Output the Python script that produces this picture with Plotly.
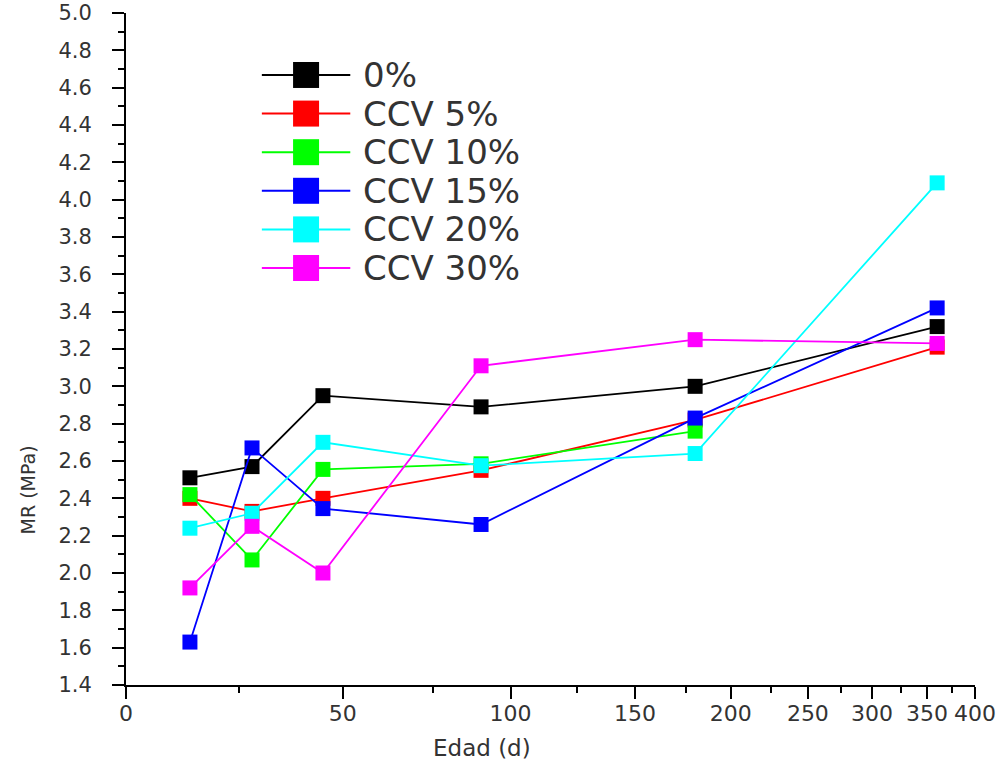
import numpy as np
import plotly.graph_objects as go

# Curing age (days) and flexural strength MR (MPa) for each mix
AGES = [14, 28, 45, 90, 180, 360]

SERIES_NAMES = ["0%", "CCV 5%", "CCV 10%", "CCV 15%", "CCV 20%", "CCV 30%"]
MR_0 = [2.51, 2.57, 2.95, 2.89, 3.00, 3.32]
MR_5 = [2.40, 2.33, 2.40, 2.55, 2.82, 3.21]
MR_10 = [2.42, 2.07, 2.555, 2.585, 2.76]
MR_15 = [1.63, 2.67, 2.345, 2.26, 2.83, 3.42]
MR_20 = [2.24, 2.32, 2.70, 2.575, 2.64, 4.09]
MR_30 = [1.92, 2.25, 2.00, 3.11, 3.25, 3.23]
SERIES_VALUES = [MR_0, MR_5, MR_10, MR_15, MR_20, MR_30]
SERIES_COLORS = ["#000000", "#ff0000", "#00ff00", "#0000ff", "#00ffff", "#ff00ff"]

X_MAJOR = [0, 50, 100, 150, 200, 250, 300, 350, 400]
X_MINOR = [25, 75, 125, 175, 225, 275, 325, 375]
Y_RANGE = [1.4, 5.0]

FONT = "DejaVu Sans"
TEXT_COLOR = "#333333"


def age_scale(days):
    """Compressed age axis: linear near zero, logarithmic for long ages."""
    return np.arcsinh(np.asarray(days, dtype=float) / 80.0)


fig = go.Figure()

for name, vals, color in zip(SERIES_NAMES, SERIES_VALUES, SERIES_COLORS):
    fig.add_trace(go.Scatter(
        x=age_scale(AGES[:len(vals)]), y=vals, name=name,
        mode="lines+markers",
        line=dict(color=color, width=1.8),
        marker=dict(symbol="square", size=15, color=color, line=dict(width=0)),
        showlegend=False, cliponaxis=False,
        xaxis="x", yaxis="y",
    ))

# Hand-built legend in its own small subplot (long line + big square, then label)
for row, (name, color) in enumerate(zip(SERIES_NAMES, SERIES_COLORS)):
    fig.add_trace(go.Scatter(
        x=[0, 1], y=[row, row], mode="lines",
        line=dict(color=color, width=2),
        showlegend=False, hoverinfo="skip",
        xaxis="x2", yaxis="y2",
    ))
    fig.add_trace(go.Scatter(
        x=[0.5], y=[row], mode="markers",
        marker=dict(symbol="square", size=26, color=color, line=dict(width=0)),
        showlegend=False, hoverinfo="skip", cliponaxis=False,
        xaxis="x2", yaxis="y2",
    ))
    fig.add_annotation(
        x=1.12, y=row, xref="x2", yref="y2", text=name, showarrow=False,
        xanchor="left", yanchor="middle",
        font=dict(family=FONT, size=34, color=TEXT_COLOR),
    )

# Axis titles
fig.add_annotation(
    x=0.419, y=-0.094, xref="paper", yref="paper", text="Edad (d)",
    showarrow=False, xanchor="center", yanchor="middle",
    font=dict(family=FONT, size=23, color=TEXT_COLOR),
)
fig.add_annotation(
    x=-0.115, y=0.29, xref="paper", yref="paper", text="MR (MPa)",
    showarrow=False, xanchor="center", yanchor="middle", textangle=-90,
    font=dict(family=FONT, size=19, color=TEXT_COLOR),
)

fig.update_layout(
    width=1003, height=765,
    margin=dict(l=126, r=28, t=13, b=80),
    paper_bgcolor="white", plot_bgcolor="white",
    font=dict(family=FONT, color=TEXT_COLOR),
    showlegend=False,
    xaxis=dict(
        range=[0, float(age_scale(400))],
        tickmode="array",
        tickvals=age_scale(X_MAJOR).tolist(),
        ticktext=[str(v) for v in X_MAJOR],
        ticks="outside", ticklen=12, tickwidth=2, tickcolor="black",
        showline=True, linewidth=2, linecolor="black",
        showgrid=False, zeroline=False, automargin=False,
        tickfont=dict(family=FONT, size=22, color=TEXT_COLOR),
        ticklabelstandoff=-4,
        minor=dict(tickmode="array", tickvals=age_scale(X_MINOR).tolist(),
                   ticks="outside", ticklen=6, tickwidth=2, tickcolor="black"),
    ),
    yaxis=dict(
        range=Y_RANGE,
        tickmode="linear", tick0=1.4, dtick=0.2, tickformat=".1f",
        ticks="outside", ticklen=12, tickwidth=2, tickcolor="black",
        showline=True, linewidth=2, linecolor="black",
        showgrid=False, zeroline=False, automargin=False,
        tickfont=dict(family=FONT, size=21, color=TEXT_COLOR),
        ticklabelstandoff=16,
        minor=dict(dtick=0.1, ticks="outside", ticklen=6, tickwidth=2,
                   tickcolor="black"),
    ),
    # legend subplot: x in [0, 1] is the sample line, labels start past it
    xaxis2=dict(domain=[0.1496, 0.3475], range=[-0.1, 1.8], visible=False,
                anchor="y2", fixedrange=True, automargin=False),
    yaxis2=dict(domain=[0.5918, 0.9365], range=[5.5, -0.5], visible=False,
                anchor="x2", fixedrange=True, automargin=False),
)

fig.write_html("out.html")
